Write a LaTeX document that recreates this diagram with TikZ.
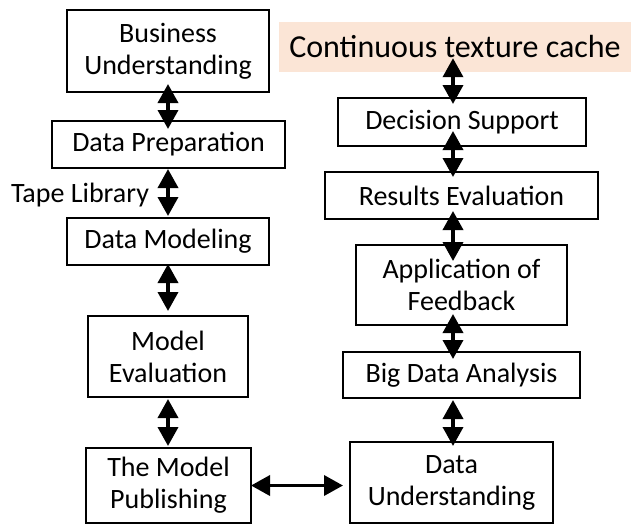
\documentclass[tikz,border=0pt]{standalone}
\usepackage{fontspec}
\setmainfont{Carlito}
\usetikzlibrary{arrows.meta,calc}
\definecolor{peach}{HTML}{FBE5D6}
\tikzset{
  box/.style={draw=black, line width=2pt, align=center, inner sep=0pt,
    font=\fontsize{28}{32}\selectfont},
  dbl/.style={line width=3.6pt,
    {Triangle[length=19pt,width=20pt]}-{Triangle[length=19pt,width=20pt]}},
  lbl/.style={inner sep=0pt, font=\fontsize{28}{32}\selectfont}
}
\begin{document}
\begin{tikzpicture}[x=1pt,y=-1pt]
\useasboundingbox (0,0) rectangle (631,527);
% left column
\node[box, minimum width=202pt, minimum height=82pt] (bu) at (168,51) {Business\\Understanding};
\node[box, minimum width=233pt, minimum height=47pt] (dp) at (168.5,144.5) {Data Preparation};
\node[box, minimum width=202pt, minimum height=47pt] (dm) at (168,241.5) {Data Modeling};
\node[box, minimum width=160pt, minimum height=81pt] (me) at (168,356.5) {Model\\Evaluation};
\node[box, minimum width=165pt, minimum height=75pt] (tmp) at (168.5,485.5) {The Model\\Publishing};
\node[lbl] (tape) at (80,195) {Tape Library};
% right column
\node[fill=peach, inner sep=0pt, minimum width=352pt, minimum height=50pt,
  font=\fontsize{32}{36}\selectfont] (cache) at (455,47) {Continuous texture cache};
\node[box, minimum width=248pt, minimum height=48pt] (ds) at (462,122) {Decision Support};
\node[box, minimum width=273pt, minimum height=47pt] (re) at (461.5,195.5) {Results Evaluation};
\node[box, minimum width=211pt, minimum height=80pt] (af) at (461.5,285) {Application of\\Feedback};
\node[box, minimum width=237pt, minimum height=46pt] (bda) at (461.5,375) {Big Data Analysis};
\node[box, minimum width=203pt, minimum height=81pt] (du) at (451.5,482.5) {Data\\Understanding};
\coordinate (ax) at (453,0);
\coordinate (lx) at (168,0);
% left arrows
\draw[dbl] ($(bu.south -| lx)+(0,-9)$) -- ($(dp.north -| lx)+(0,9)$);
\draw[dbl] (dp.south -| lx) -- ($(dm.north -| lx)+(0,-1)$);
\draw[dbl] ($(dm.south -| lx)+(0,-2)$) -- ($(me.north -| lx)+(0,-4)$);
\draw[dbl] ($(me.south -| lx)+(0,1)$) -- ($(tmp.north -| lx)+(0,-1)$);
% right arrows
\draw[dbl] ($(cache.south -| ax)+(0,-14)$) -- ($(ds.north -| ax)+(0,7)$);
\draw[dbl] ($(ds.south -| ax)+(0,-16)$) -- ($(re.north -| ax)+(0,6)$);
\draw[dbl] ($(re.south -| ax)+(0,-9)$) -- ($(af.north -| ax)+(0,17)$);
\draw[dbl] ($(af.south -| ax)+(0,-12)$) -- ($(bda.north -| ax)+(0,8)$);
\draw[dbl] ($(bda.south -| ax)+(0,1)$) -- ($(du.north -| ax)+(0,5)$);
% horizontal
\draw[dbl] ($(tmp.east)+(-1,0)$) -- ($(du.west |- tmp.east)+(-6,0)$);
\end{tikzpicture}
\end{document}
